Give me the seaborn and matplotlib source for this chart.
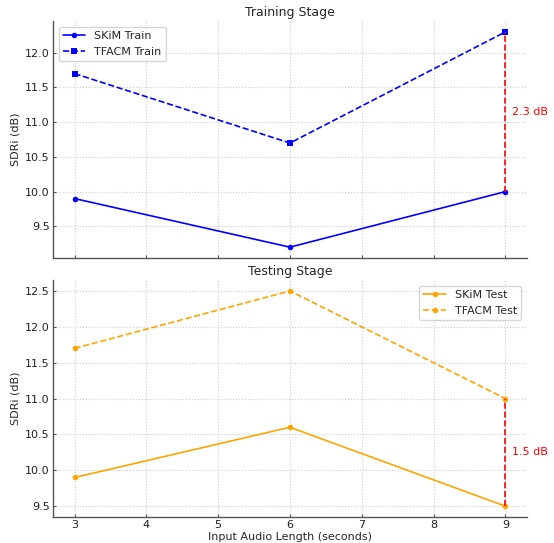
import matplotlib
matplotlib.use("Agg")
import matplotlib.pyplot as plt
import seaborn as sns
import pandas as pd

lengths = [3, 6, 9]
skim_train = [9.9, 9.2, 10.0]
tfacm_train = [11.7, 10.7, 12.3]
skim_test = [9.9, 10.6, 9.5]
tfacm_test = [11.7, 12.5, 11.0]

sns.set_style("white")
plt.rcParams['font.family'] = ['DejaVu Sans']

fig = plt.figure(figsize=(5.54, 5.43), dpi=100)
ax1 = fig.add_axes([0.0957, 0.525, 0.8553, 0.436])
ax2 = fig.add_axes([0.0957, 0.048, 0.8553, 0.436], sharex=ax1)

df1 = pd.DataFrame({"x": lengths, "skim": skim_train, "tfacm": tfacm_train})
df2 = pd.DataFrame({"x": lengths, "skim": skim_test, "tfacm": tfacm_test})

sns.lineplot(data=df1, x="x", y="skim", ax=ax1, color="blue", marker="o",
             markersize=4, markeredgewidth=0, linewidth=1.2, label="SKiM Train")
sns.lineplot(data=df1, x="x", y="tfacm", ax=ax1, color="blue", marker="s",
             markersize=4, markeredgewidth=0, linewidth=1.2, linestyle="--", label="TFACM Train")
sns.lineplot(data=df2, x="x", y="skim", ax=ax2, color="orange", marker="o",
             markersize=4, markeredgewidth=0, linewidth=1.2, label="SKiM Test")
sns.lineplot(data=df2, x="x", y="tfacm", ax=ax2, color="orange", marker="o",
             markersize=4, markeredgewidth=0, linewidth=1.2, linestyle="--", label="TFACM Test")

# annotations
ax1.vlines(lengths[-1], skim_train[-1], tfacm_train[-1], colors="red", linestyles="--", linewidth=1.2)
ax1.text(lengths[-1] + 0.1, (skim_train[-1] + tfacm_train[-1]) / 2,
         f"{tfacm_train[-1] - skim_train[-1]:.1f} dB", color="red", va="center", fontsize=8)
ax2.vlines(lengths[-1], skim_test[-1], tfacm_test[-1], colors="red", linestyles="--", linewidth=1.2)
ax2.text(lengths[-1] + 0.1, (skim_test[-1] + tfacm_test[-1]) / 2,
         f"{tfacm_test[-1] - skim_test[-1]:.1f} dB", color="red", va="center", fontsize=8)

for ax, title in [(ax1, "Training Stage"), (ax2, "Testing Stage")]:
    ax.set_title(title, fontsize=9, pad=4)
    ax.set_ylabel("SDRi (dB)", fontsize=8, labelpad=3)
    ax.grid(True, linestyle=":", color="#cccccc", linewidth=0.8)
    ax.tick_params(labelsize=8, length=2, width=0.8, pad=2.5, direction="in", color="#555555",
                   labelcolor="#222222", left=True, bottom=True)
    for s in ["top", "right"]:
        ax.spines[s].set_visible(False)
    for s in ["left", "bottom"]:
        ax.spines[s].set_color("#555555")
        ax.spines[s].set_linewidth(1.0)

ax1.set_xlabel("")
ax1.tick_params(labelbottom=False)
ax1.legend(loc="upper left", fontsize=8, frameon=True)
ax2.legend(loc="upper right", fontsize=8, frameon=True)
ax2.set_xlabel("Input Audio Length (seconds)", fontsize=8, labelpad=1)
ax2.set_xticks([3, 4, 5, 6, 7, 8, 9])

fig.savefig("out.png", dpi=100)
